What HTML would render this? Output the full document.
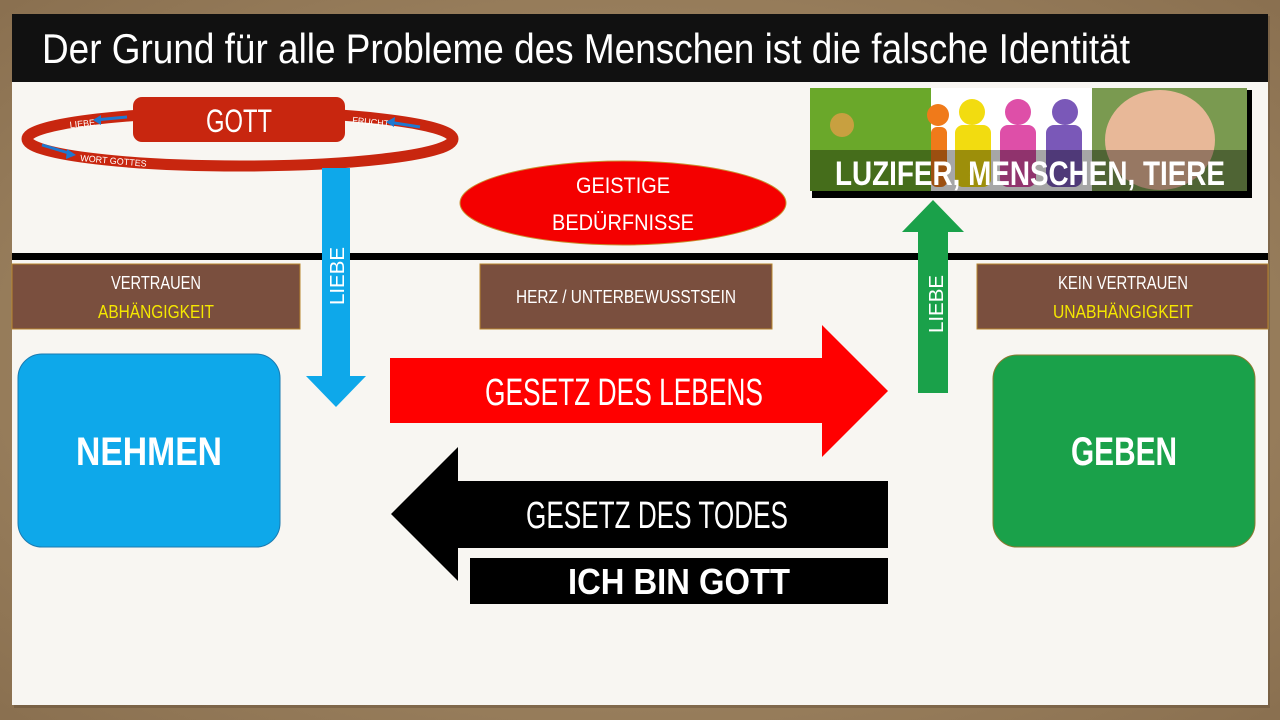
<!DOCTYPE html>
<html><head><meta charset="utf-8"><style>
html,body{margin:0;padding:0;background:#a08762;}
svg{display:block}
text{font-family:"Liberation Sans",sans-serif;}
</style></head><body>
<svg width="1280" height="720" viewBox="0 0 1280 720" xmlns="http://www.w3.org/2000/svg">
<defs>
<radialGradient id="bg" cx="50%" cy="50%" r="70%"><stop offset="0" stop-color="#b49a74"/><stop offset="1" stop-color="#8a7050"/></radialGradient>
</defs>
<rect width="1280" height="720" fill="url(#bg)"/>
<rect x="14" y="16" width="1256" height="692" fill="#5a4630" opacity="0.35"/>
<rect x="12" y="14" width="1256" height="691" fill="#f8f6f2"/>
<!-- title -->
<rect x="12" y="14" width="1256" height="68" fill="#111"/>
<text x="42" y="63" font-size="42" fill="#fff" textLength="1088" lengthAdjust="spacingAndGlyphs">Der Grund für alle Probleme des Menschen ist die falsche Identität</text>
<!-- horizontal line -->
<rect x="12" y="253" width="1256" height="7" fill="#000"/>
<!-- GOTT ellipse -->
<ellipse cx="240" cy="139" rx="213" ry="27" fill="none" stroke="#c8260f" stroke-width="11"/>
<rect x="133" y="97" width="212" height="45" rx="9" fill="#c8260f"/>
<text x="239" y="132" font-size="32" fill="#fff" text-anchor="middle" textLength="66" lengthAdjust="spacingAndGlyphs">GOTT</text>
<text x="70" y="128" font-size="9" fill="#fff" transform="rotate(-6 70 128)">LIEBE</text>
<line x1="95" y1="120" x2="127" y2="117" stroke="#1e78d0" stroke-width="3"/>
<polygon points="93,120 101,115 101,125" fill="#1e78d0"/>
<text x="352" y="123" font-size="9" fill="#fff" transform="rotate(6 352 123)">FRUCHT</text>
<line x1="388" y1="122" x2="420" y2="127" stroke="#1e78d0" stroke-width="3"/>
<polygon points="386,122 395,117 394,127" fill="#1e78d0"/>
<line x1="42" y1="145" x2="72" y2="154" stroke="#1e78d0" stroke-width="3"/>
<polygon points="76,155 67,149 66,159" fill="#1e78d0"/>
<text x="80" y="161" font-size="9" fill="#fff" transform="rotate(5 80 161)">WORT GOTTES</text>
<!-- blue arrow -->
<polygon points="322,168 350,168 350,376 366,376 336,407 306,376 322,376" fill="#0ea8ea"/>
<text font-size="20" fill="#fff" transform="translate(344,305) rotate(-90)" textLength="58" lengthAdjust="spacingAndGlyphs">LIEBE</text>
<!-- red ellipse -->
<ellipse cx="623" cy="203" rx="163" ry="42" fill="#f40000" stroke="#c89030" stroke-width="1"/>
<text x="623" y="193" font-size="22" fill="#fff" text-anchor="middle" textLength="94" lengthAdjust="spacingAndGlyphs">GEISTIGE</text>
<text x="623" y="230" font-size="22" fill="#fff" text-anchor="middle" textLength="142" lengthAdjust="spacingAndGlyphs">BEDÜRFNISSE</text>
<!-- image banner -->
<rect x="812" y="90" width="440" height="108" fill="#000"/>
<rect x="810" y="88" width="121" height="103" fill="#6aa82a"/>
<circle cx="842" cy="125" r="12" fill="#c8a040"/>
<rect x="931" y="88" width="161" height="103" fill="#fff"/>
<g>
<circle cx="938" cy="115" r="11" fill="#f07a1a"/><rect x="931" y="127" width="16" height="60" rx="6" fill="#f07a1a"/>
<circle cx="972" cy="112" r="13" fill="#f2dc10"/><rect x="955" y="125" width="36" height="62" rx="8" fill="#f2dc10"/>
<circle cx="1018" cy="112" r="13" fill="#de4fa8"/><rect x="1000" y="125" width="36" height="62" rx="8" fill="#de4fa8"/>
<circle cx="1065" cy="112" r="13" fill="#7a58b8"/><rect x="1046" y="125" width="36" height="62" rx="8" fill="#7a58b8"/>
</g>
<rect x="1092" y="88" width="155" height="103" fill="#7a9a50"/>
<ellipse cx="1160" cy="140" rx="55" ry="50" fill="#e8b898"/>
<rect x="810" y="150" width="437" height="41" fill="#000" opacity="0.35"/>
<text x="1030" y="185" font-size="34" font-weight="bold" fill="#fff" text-anchor="middle" textLength="390" lengthAdjust="spacingAndGlyphs">LUZIFER, MENSCHEN, TIERE</text>
<!-- green arrow -->
<polygon points="918,393 948,393 948,232 964,232 933,200 902,232 918,232" fill="#1aa14a"/>
<text font-size="20" fill="#fff" transform="translate(943,333) rotate(-90)" textLength="58" lengthAdjust="spacingAndGlyphs">LIEBE</text>
<!-- brown boxes -->
<rect x="12" y="264" width="288" height="65" fill="#7a4f3e" stroke="#b8862e" stroke-width="1"/>
<text x="156" y="289" font-size="18" fill="#fff" text-anchor="middle" textLength="90" lengthAdjust="spacingAndGlyphs">VERTRAUEN</text>
<text x="156" y="318" font-size="18" fill="#f5e800" text-anchor="middle" textLength="116" lengthAdjust="spacingAndGlyphs">ABHÄNGIGKEIT</text>
<rect x="480" y="264" width="292" height="65" fill="#7a4f3e" stroke="#b8862e" stroke-width="1"/>
<text x="626" y="303" font-size="18" fill="#fff" text-anchor="middle" textLength="220" lengthAdjust="spacingAndGlyphs">HERZ / UNTERBEWUSSTSEIN</text>
<rect x="977" y="264" width="291" height="65" fill="#7a4f3e" stroke="#b8862e" stroke-width="1"/>
<text x="1123" y="289" font-size="18" fill="#fff" text-anchor="middle" textLength="130" lengthAdjust="spacingAndGlyphs">KEIN VERTRAUEN</text>
<text x="1123" y="318" font-size="18" fill="#f5e800" text-anchor="middle" textLength="140" lengthAdjust="spacingAndGlyphs">UNABHÄNGIGKEIT</text>
<!-- NEHMEN / GEBEN -->
<rect x="18" y="354" width="262" height="193" rx="24" fill="#0ea8ea" stroke="#1a7ab0" stroke-width="1"/>
<text x="149" y="465" font-size="40" font-weight="bold" fill="#fff" text-anchor="middle" textLength="146" lengthAdjust="spacingAndGlyphs">NEHMEN</text>
<rect x="993" y="355" width="262" height="192" rx="24" fill="#1aa14a" stroke="#8a7a30" stroke-width="1"/>
<text x="1124" y="465" font-size="40" font-weight="bold" fill="#fff" text-anchor="middle" textLength="106" lengthAdjust="spacingAndGlyphs">GEBEN</text>
<!-- red right arrow -->
<polygon points="390,358 822,358 822,325 888,391 822,457 822,423 390,423" fill="#ff0000"/>
<text x="624" y="405" font-size="38" fill="#fff" text-anchor="middle" textLength="278" lengthAdjust="spacingAndGlyphs">GESETZ DES LEBENS</text>
<!-- black left arrow -->
<polygon points="888,481 458,481 458,447 391,514 458,581 458,548 888,548" fill="#000"/>
<text x="657" y="528" font-size="38" fill="#fff" text-anchor="middle" textLength="262" lengthAdjust="spacingAndGlyphs">GESETZ DES TODES</text>
<rect x="470" y="558" width="418" height="46" fill="#000"/>
<text x="679" y="594" font-size="36" font-weight="bold" fill="#fff" text-anchor="middle" textLength="222" lengthAdjust="spacingAndGlyphs">ICH BIN GOTT</text>
</svg>
</body></html>
